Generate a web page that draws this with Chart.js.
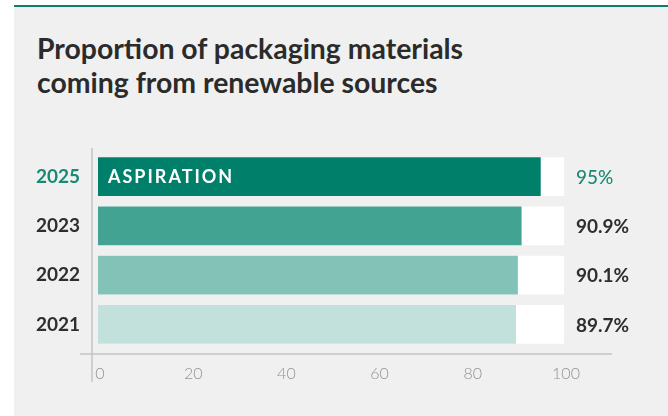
<!DOCTYPE html>
<html>
<head>
<meta charset="utf-8">
<style>
  html, body { margin: 0; padding: 0; background: #fff; width: 668px; height: 416px; overflow: hidden; }
  .panel { position: absolute; left: 14px; top: 5px; width: 654px; height: 411px; background: #f0f0f0; border-top: 2px solid #0c7f6b; }
  .title { position: absolute; left: 37px; top: 31px; font-family: Lato, sans-serif; font-weight: bold; font-size: 28.4px; line-height: 34px; color: #2b2b2b; }
  #chart { position: absolute; left: 0; top: 0; }
</style>
</head>
<body>
<div class="panel"></div>
<div class="title">Proportion of packaging materials<br>coming from renewable sources</div>
<canvas id="chart" width="668" height="416"></canvas>
<script src="https://cdn.jsdelivr.net/npm/chart.js"></script>
<script>
// Data
const years = ['2025', '2023', '2022', '2021'];
const shares = [95, 90.9, 90.1, 89.7];
const valueLabels = ['95%', '90.9%', '90.1%', '89.7%'];
const fullScale = [100, 100, 100, 100];
const xTicks = [0, 20, 40, 60, 80, 100];

const TEAL = '#1a8a76';
const DARK = '#2e2e2e';
const barColors = ['#00806b', '#43a392', '#83c2b7', '#c2e1dc'];

// value labels, the "aspiration" tag and the two axis rules
const decorations = {
  id: 'decorations',
  beforeDatasetsDraw(chart) {
    const { ctx, chartArea } = chart;
    ctx.save();
    ctx.strokeStyle = '#c4c4c4';
    ctx.lineWidth = 1.5;
    ctx.beginPath();
    ctx.moveTo(chartArea.left - 18, chartArea.bottom + 5);
    ctx.lineTo(chartArea.right + 48, chartArea.bottom + 5);
    ctx.stroke();
    ctx.beginPath();
    ctx.moveTo(chartArea.left - 6, chartArea.top - 4);
    ctx.lineTo(chartArea.left - 6, chartArea.bottom + 33);
    ctx.stroke();
    ctx.restore();
  },
  afterDatasetsDraw(chart) {
    const { ctx, chartArea } = chart;
    const meta = chart.getDatasetMeta(0);
    ctx.save();
    ctx.textBaseline = 'middle';
    meta.data.forEach((bar, i) => {
      ctx.fillStyle = i === 0 ? TEAL : DARK;
      ctx.font = (i === 0 ? '500' : 'bold') + ' 19px Lato';
      ctx.textAlign = 'left';
      ctx.fillText(valueLabels[i], chartArea.right + 12, bar.y + 1);
    });
    const first = meta.data[0];
    ctx.fillStyle = '#ffffff';
    ctx.font = 'bold 18px Lato';
    ctx.letterSpacing = '2px';
    ctx.fillText('ASPIRATION', first.base + 10, first.y + 1);
    ctx.restore();
  }
};

new Chart(document.getElementById('chart'), {
  type: 'bar',
  data: {
    labels: years,
    datasets: [
      { data: shares, backgroundColor: barColors, grouped: false, barPercentage: 0.79, categoryPercentage: 1 },
      { data: fullScale, backgroundColor: '#ffffff', grouped: false, barPercentage: 0.79, categoryPercentage: 1 }
    ]
  },
  options: {
    indexAxis: 'y',
    responsive: false,
    animation: false,
    layout: { padding: { top: 152, right: 104, left: 0, bottom: 0 } },
    plugins: { legend: { display: false }, tooltip: { enabled: false } },
    scales: {
      x: {
        min: 0,
        max: 100,
        afterBuildTicks: axis => { axis.ticks = xTicks.map(v => ({ value: v })); },
        afterFit: axis => { axis.height = 67; },
        grid: { display: false },
        border: { display: false },
        ticks: { color: '#939393', font: { family: 'Lato', size: 16, weight: '300' }, padding: 7, labelOffset: 2 }
      },
      y: {
        afterFit: axis => { axis.width = 98; },
        grid: { display: false },
        border: { display: false },
        ticks: {
          color: c => (c.index === 0 ? TEAL : DARK),
          font: { family: 'Lato', size: 19, weight: 'bold' },
          padding: 10
        }
      }
    }
  },
  plugins: [decorations]
});
</script>
</body>
</html>
